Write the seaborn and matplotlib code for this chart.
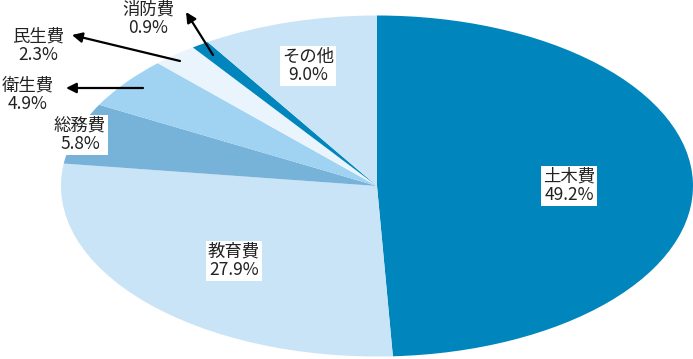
import matplotlib
matplotlib.use("Agg")
import matplotlib.pyplot as plt
import seaborn as sns

categories = ["土木費", "教育費", "総務費", "衛生費", "民生費", "消防費", "その他"]
values = [49.2, 27.9, 5.8, 4.9, 2.3, 0.9, 9.0]
colors = ["#0085BD", "#C9E4F7", "#77B2D9", "#A0D2F2", "#EAF4FC", "#0085BD", "#C9E4F7"]

sns.set_theme(style="white")
plt.rcParams['font.family'] = ['Noto Sans CJK JP', 'DejaVu Sans']

W, H = 693, 359
fig = plt.figure(figsize=(W / 100, H / 100), dpi=100)
# axes covering the ellipse bounding box (pixels)
cx, cy, rx, ry = 377, 186, 316, 170.5
ax = fig.add_axes([(cx - rx) / W, 1 - (cy + ry) / H, 2 * rx / W, 2 * ry / H])
ax.pie(values, colors=colors, startangle=90, counterclock=False,
       wedgeprops=dict(linewidth=0))
ax.set_aspect('auto')
ax.set_xlim(-1, 1)
ax.set_ylim(-1, 1)
ax.axis('off')

def px(x, y):
    return (x / W, 1 - y / H)

# label positions in pixels (center)
label_pos = {
    "土木費": (569, 186, True),
    "教育費": (234, 261, True),
    "総務費": (80, 135, True),
    "衛生費": (28, 95, False),
    "民生費": (38, 46, False),
    "消防費": (148, 19, False),
    "その他": (308, 66, True),
}
for cat, val in zip(categories, values):
    x, y, boxed = label_pos[cat]
    bbox = dict(boxstyle="square,pad=0.1", fc="white", ec="none") if boxed else None
    fig.text(*px(x, y), f"{cat}\n{val:.1f}%", ha="center", va="center",
             fontsize=12.5, linespacing=1.05, color="#222222", bbox=bbox)

arrows = [
    ((143, 88), (66, 88)),
    ((180, 61), (72, 35)),
    ((213, 55), (186, 12)),
]
for (tx, ty), (hx, hy) in arrows:
    fig.add_artist(matplotlib.patches.FancyArrowPatch(
        px(tx, ty), px(hx, hy), transform=fig.transFigure,
        arrowstyle="-|>,head_length=6,head_width=3", color="black", lw=1.6,
        shrinkA=0, shrinkB=0))

fig.savefig("out.png", dpi=100)
